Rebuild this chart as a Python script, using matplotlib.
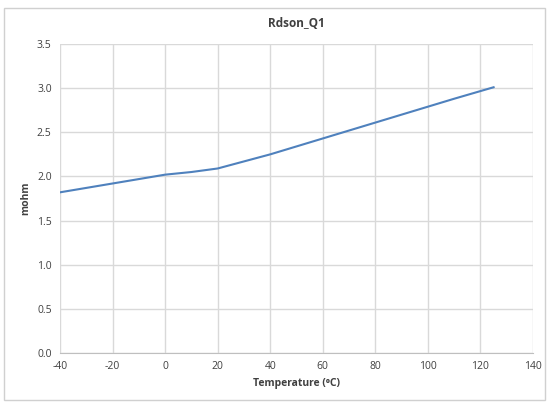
import matplotlib
matplotlib.use("Agg")
import matplotlib.pyplot as plt
from matplotlib.patches import Rectangle

temps = [-40, -30, -20, -10, 0, 10, 20, 30, 40, 50, 60, 70, 80, 90, 100, 110, 125]
rdson = [1.82, 1.87, 1.92, 1.97, 2.02, 2.05, 2.09, 2.17, 2.25, 2.34, 2.43, 2.52, 2.61, 2.70, 2.79, 2.88, 3.01]
xticks = [-40, -20, 0, 20, 40, 60, 80, 100, 120, 140]
yticks = [0.0, 0.5, 1.0, 1.5, 2.0, 2.5, 3.0, 3.5]

plt.rcParams['font.family'] = ['Open Sans', 'DejaVu Sans']
plt.rcParams['axes.unicode_minus'] = False

fig = plt.figure(figsize=(5.48, 4.03), dpi=100)
fig.patches.append(Rectangle((4/548, 3/403), 541/548, 392/403, transform=fig.transFigure,
                             fill=False, edgecolor='#d0d0d0', linewidth=1))
ax = fig.add_axes([60/548, 50/403, 473/548, 309/403])
ax.plot(temps, rdson, color='#4f81bd', linewidth=1.5)
ax.set_xlim(-40, 140)
ax.set_ylim(0, 3.5)
ax.set_xticks(xticks)
ax.set_yticks(yticks)
ax.set_xticklabels([str(v) for v in xticks])
ax.set_yticklabels([f"{v:.1f}" for v in yticks])
ax.grid(True, color='#d9d9d9', linewidth=1)
ax.set_axisbelow(True)
for s in ['top', 'right', 'left']:
    ax.spines[s].set_visible(False)
ax.spines['bottom'].set_color('#bfbfbf')
ax.tick_params(length=0, labelsize=7.5, colors='#404040', pad=6)
ax.set_title('Rdson_Q1', fontsize=8.5, fontweight='bold', color='#404040', pad=12)
ax.set_xlabel('Temperature (\u2070C)', fontsize=7.5, fontweight='bold', color='#404040')
ax.set_ylabel('mohm', fontsize=7.5, fontweight='bold', color='#404040')
fig.savefig('out.png', dpi=100)
